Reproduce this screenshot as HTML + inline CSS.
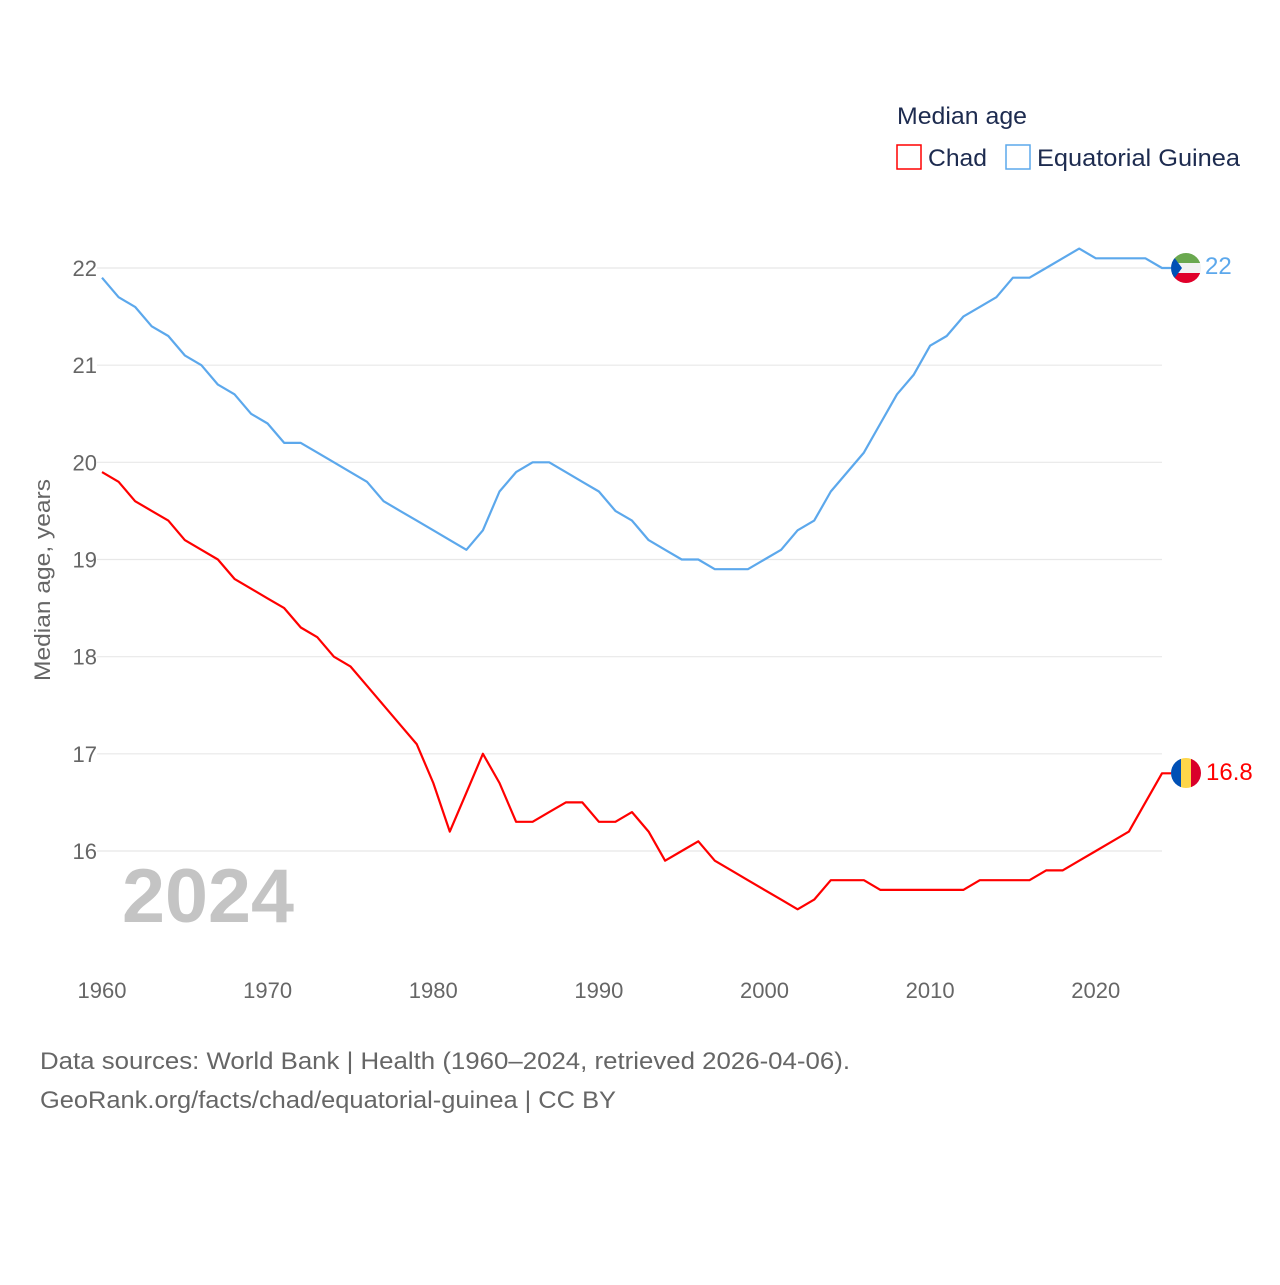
<!DOCTYPE html>
<html><head><meta charset="utf-8"><style>
body{margin:0;background:#fff;font-family:"Liberation Sans",sans-serif;}
svg text{font-family:"Liberation Sans",sans-serif;}
</style></head><body>
<svg id="chart" width="1280" height="1280" viewBox="0 0 1280 1280">
<text x="897" y="124" font-size="24" fill="#1d2b4f" textLength="130" lengthAdjust="spacingAndGlyphs">Median age</text>
<g><rect x="897" y="145" width="24" height="24" fill="none" stroke="#f00" stroke-width="1.5"/><text x="928" y="166" font-size="24" fill="#1d2b4f" textLength="59" lengthAdjust="spacingAndGlyphs">Chad</text></g>
<g><rect x="1006" y="145" width="24" height="24" fill="none" stroke="#5ca8ec" stroke-width="1.5"/><text x="1037" y="166" font-size="24" fill="#1d2b4f" textLength="203" lengthAdjust="spacingAndGlyphs">Equatorial Guinea</text></g>
<g id="grid"></g>
<g id="yticks"></g>
<g id="xticks"></g>
<text transform="translate(50,580) rotate(-90)" text-anchor="middle" font-size="22" fill="#666" textLength="202" lengthAdjust="spacingAndGlyphs">Median age, years</text>
<text x="122" y="922" font-size="76" font-weight="bold" fill="#c4c4c4" textLength="172" lengthAdjust="spacingAndGlyphs">2024</text>
<g id="lines"></g>
<g>
<clipPath id="c1"><circle cx="1186" cy="268" r="15"/></clipPath>
<g clip-path="url(#c1)"><rect x="1171" y="253" width="30" height="10" fill="#6aa84f"/><rect x="1171" y="263" width="30" height="10" fill="#f2f2f2"/><rect x="1171" y="273" width="30" height="10" fill="#e0002a"/><polygon points="1171,253 1182,268 1171,283" fill="#0050b5"/></g></g>
<text x="1205" y="274" font-size="24" fill="#5ca8ec">22</text>
<g>
<clipPath id="c2"><circle cx="1186" cy="773" r="15"/></clipPath>
<g clip-path="url(#c2)"><rect x="1171" y="758" width="10" height="30" fill="#0050b5"/><rect x="1181" y="758" width="10" height="30" fill="#fed64a"/><rect x="1191" y="758" width="10" height="30" fill="#d9002a"/></g></g>
<text x="1206" y="780" font-size="24" fill="#f00">16.8</text>
<text x="40" y="1069" font-size="24" fill="#666" textLength="810" lengthAdjust="spacingAndGlyphs">Data sources: World Bank | Health (1960–2024, retrieved 2026-04-06).</text>
<text x="40" y="1108" font-size="24" fill="#666" textLength="576" lengthAdjust="spacingAndGlyphs">GeoRank.org/facts/chad/equatorial-guinea | CC BY</text>
</svg>
<script>
const years = Array.from({length:65},(_,i)=>1960+i);
const chad = [19.9,19.8,19.6,19.5,19.4,19.2,19.1,19.0,18.8,18.7,18.6,18.5,18.3,18.2,18.0,17.9,17.7,17.5,17.3,17.1,16.7,16.2,16.6,17.0,16.7,16.3,16.3,16.4,16.5,16.5,16.3,16.3,16.4,16.2,15.9,16.0,16.1,15.9,15.8,15.7,15.6,15.5,15.4,15.5,15.7,15.7,15.7,15.6,15.6,15.6,15.6,15.6,15.6,15.7,15.7,15.7,15.7,15.8,15.8,15.9,16.0,16.1,16.2,16.5,16.8];
const eqGuinea = [21.9,21.7,21.6,21.4,21.3,21.1,21.0,20.8,20.7,20.5,20.4,20.2,20.2,20.1,20.0,19.9,19.8,19.6,19.5,19.4,19.3,19.2,19.1,19.3,19.7,19.9,20.0,20.0,19.9,19.8,19.7,19.5,19.4,19.2,19.1,19.0,19.0,18.9,18.9,18.9,19.0,19.1,19.3,19.4,19.7,19.9,20.1,20.4,20.7,20.9,21.2,21.3,21.5,21.6,21.7,21.9,21.9,22.0,22.1,22.2,22.1,22.1,22.1,22.1,22.0];
const yTicks = [16,17,18,19,20,21,22];
const xTicks = [1960,1970,1980,1990,2000,2010,2020];
const NS="http://www.w3.org/2000/svg";
const X = y => 102 + (y-1960)*(1162-102)/64;
const Y = v => 851 - (v-16)*(851-268)/6;
const grid=document.getElementById('grid'), yt=document.getElementById('yticks'), xt=document.getElementById('xticks'), lines=document.getElementById('lines');
yTicks.forEach(t=>{
  const l=document.createElementNS(NS,'line');
  l.setAttribute('x1',97);l.setAttribute('x2',1162);l.setAttribute('y1',Y(t));l.setAttribute('y2',Y(t));
  l.setAttribute('stroke','#e8e8e8');l.setAttribute('stroke-width','1.2');
  
  
  grid.appendChild(l);
  const tx=document.createElementNS(NS,'text');
  tx.setAttribute('x',97);tx.setAttribute('y',Y(t)+8);tx.setAttribute('text-anchor','end');
  tx.setAttribute('font-size','22');tx.setAttribute('fill','#666');tx.textContent=t;
  
  
  yt.appendChild(tx);
});
xTicks.forEach(t=>{
  const tx=document.createElementNS(NS,'text');
  tx.setAttribute('x',X(t));tx.setAttribute('y',998);tx.setAttribute('text-anchor','middle');
  tx.setAttribute('font-size','22');tx.setAttribute('fill','#666');tx.textContent=t;
  
  
  xt.appendChild(tx);
});
function draw(vals,color,name,flagX){
  let d=vals.map((v,i)=>(i?'L':'M')+X(years[i]).toFixed(1)+','+Y(v).toFixed(1)).join(' ');
  d+=' L'+flagX+','+Y(vals[vals.length-1]).toFixed(1);
  const p=document.createElementNS(NS,'path');
  p.setAttribute('d',d);p.setAttribute('fill','none');p.setAttribute('stroke',color);
  p.setAttribute('stroke-width','2.2');p.setAttribute('stroke-linejoin','round');
  
  
  lines.appendChild(p);
}
draw(eqGuinea,'#5ca8ec','line-equatorial-guinea',1171);
draw(chad,'#f00','line-chad',1171);
</script>
</body></html>
